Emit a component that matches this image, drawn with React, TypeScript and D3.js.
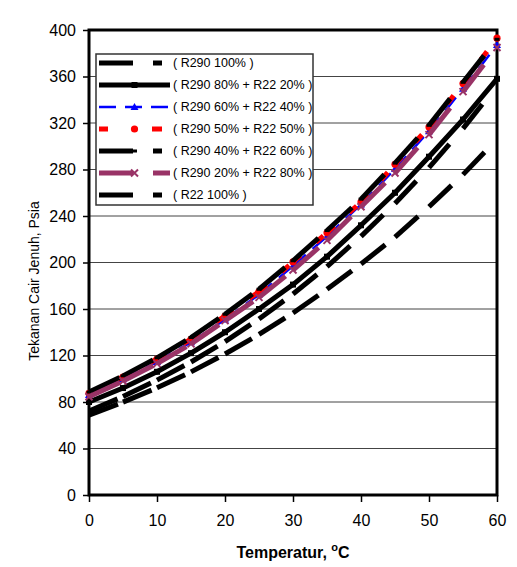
import React, { useRef, useEffect } from 'react';
import * as d3 from 'd3';

// Temperatures (°C) on the x axis
const temps = [0, 5, 10, 15, 20, 25, 30, 35, 40, 45, 50, 55, 60];

// Saturated liquid pressure (psia) per refrigerant mixture
const r290_100 = [68.7, 79.9, 92.2, 105.9, 121.3, 138.1, 156.6, 177.0, 198.7, 221.9, 248.0, 275.6, 306.0];
const r290_80 = [80, 92, 106, 122, 140, 160, 181, 205, 232, 260, 291, 323, 358];
const r290_60 = [86, 99.5, 114.5, 131.5, 151, 172.5, 197, 222.5, 250, 280.5, 313, 349.5, 387];
const r290_50 = [87.5, 101.5, 117, 134, 154, 175, 200.5, 225.5, 252, 284.5, 316.5, 354, 393];
const r290_40 = [88.5, 102.5, 118, 135.5, 155.5, 177, 201.5, 227.5, 254.5, 285.5, 318, 355, 392];
const r290_20 = [84.5, 98, 113, 130, 150, 170, 193.5, 219, 248, 277, 310, 347, 385];
const r22_100 = [72.2, 84.7, 98.8, 114.4, 132.0, 151.4, 172.9, 196.5, 222.5, 250.8, 281.7, 315.2, 352.0];

const seriesLabels = [
  '( R290 100% )',
  '( R290 80% + R22 20% )',
  '( R290 60% + R22 40% )',
  '( R290 50% + R22 50% )',
  '( R290 40% + R22 60% )',
  '( R290 20% + R22 80% )',
  '( R22 100% )',
];
const seriesValues = [r290_100, r290_80, r290_60, r290_50, r290_40, r290_20, r22_100];

const yTicks = [0, 40, 80, 120, 160, 200, 240, 280, 320, 360, 400];
const xTicks = [0, 10, 20, 30, 40, 50, 60];

// line look for each series (same order as above)
const styles = [
  { color: '#000', width: 5, dash: '31,60', legendDash: '34,20,9,20', marker: 'none' },
  { color: '#000', width: 5, dash: null, legendDash: null, marker: 'square' },
  { color: '#0000ff', width: 2.5, dash: '17,9', legendDash: '17,9', marker: 'triangle' },
  { color: '#ff0000', width: 5, dash: '10,20', legendDash: '9,44,10,20', marker: 'circle' },
  { color: '#000', width: 5, dash: '34,60', legendDash: '34,20,9,20', marker: 'dash' },
  { color: '#993366', width: 5, dash: '34,60', legendDash: '34,20', marker: 'cross' },
  { color: '#000', width: 5, dash: '31,60', legendDash: '34,20,9,20', marker: 'none' },
];

const FONT = 'Arial, "Liberation Sans", Helvetica, sans-serif';

const drawMarker = (g, type, x, y, color) => {
  if (type === 'square') {
    g.append('rect').attr('x', x - 3).attr('y', y - 3).attr('width', 6).attr('height', 6).attr('fill', color);
  } else if (type === 'triangle') {
    g.append('path')
      .attr('d', `M${x},${y - 4} L${x + 4},${y + 3} L${x - 4},${y + 3} Z`)
      .attr('fill', color);
  } else if (type === 'circle') {
    g.append('circle').attr('cx', x).attr('cy', y).attr('r', 3.6).attr('fill', color);
  } else if (type === 'dash') {
    g.append('rect').attr('x', x - 2.5).attr('y', y - 1.5).attr('width', 5).attr('height', 3).attr('fill', color);
  } else if (type === 'cross') {
    g.append('path')
      .attr('d', `M${x - 3.5},${y - 3.5} L${x + 3.5},${y + 3.5} M${x - 3.5},${y + 3.5} L${x + 3.5},${y - 3.5}`)
      .attr('stroke', color)
      .attr('stroke-width', 2);
  }
};

const PressureChart = ({ width = 517, height = 567 }) => {
  const svgRef = useRef(null);

  useEffect(() => {
    const svg = d3.select(svgRef.current);
    svg.selectAll('*').remove();

    const plot = { left: 89, right: 497, top: 30, bottom: 495 };

    const xScale = d3.scaleLinear().domain([0, 60]).range([plot.left, plot.right]);
    const yScale = d3.scaleLinear().domain([0, 400]).range([plot.bottom, plot.top]);

    svg.append('rect').attr('width', width).attr('height', height).attr('fill', '#fff');

    // horizontal grid lines
    svg.append('g')
      .selectAll('line')
      .data(yTicks.slice(1, -1))
      .enter()
      .append('line')
      .attr('x1', plot.left)
      .attr('x2', plot.right)
      .attr('y1', d => yScale(d))
      .attr('y2', d => yScale(d))
      .attr('stroke', '#444')
      .attr('stroke-width', 1);

    // y axis
    const yAxis = svg.append('g')
      .attr('transform', `translate(${plot.left},0)`)
      .call(d3.axisLeft(yScale).tickValues(yTicks).tickSize(6).tickPadding(7));
    yAxis.select('.domain').remove();
    yAxis.selectAll('line').attr('stroke', '#000').attr('stroke-width', 1.5);
    yAxis.selectAll('text').attr('font-family', FONT).attr('font-size', 16).attr('fill', '#000');

    // x axis
    const xAxis = svg.append('g')
      .attr('transform', `translate(0,${plot.bottom})`)
      .call(d3.axisBottom(xScale).tickValues(xTicks).tickSize(7).tickPadding(13));
    xAxis.select('.domain').remove();
    xAxis.selectAll('line').attr('stroke', '#000').attr('stroke-width', 1.5);
    xAxis.selectAll('text').attr('font-family', FONT).attr('font-size', 16).attr('fill', '#000');

    // plot frame
    svg.append('rect')
      .attr('x', plot.left)
      .attr('y', plot.top)
      .attr('width', plot.right - plot.left)
      .attr('height', plot.bottom - plot.top)
      .attr('fill', 'none')
      .attr('stroke', '#000')
      .attr('stroke-width', 3);

    // series: every segment restarts its dash pattern, like the original
    const line = d3.line().x(d => xScale(d[0])).y(d => yScale(d[1]));
    seriesValues.forEach((vals, i) => {
      const st = styles[i];
      const g = svg.append('g');
      for (let k = 0; k < vals.length - 1; k++) {
        const seg = [[temps[k], vals[k]], [temps[k + 1], vals[k + 1]]];
        g.append('path')
          .attr('d', line(seg))
          .attr('fill', 'none')
          .attr('stroke', st.color)
          .attr('stroke-width', st.width)
          .attr('stroke-dasharray', st.dash)
          .attr('stroke-linecap', st.dash ? 'butt' : 'round');
      }
      vals.forEach((v, k) => drawMarker(g, st.marker, xScale(temps[k]), yScale(v), st.color));
    });

    // legend
    const legend = svg.append('g');
    legend.append('rect')
      .attr('x', 96)
      .attr('y', 54)
      .attr('width', 217)
      .attr('height', 151)
      .attr('fill', '#fff')
      .attr('stroke', '#333')
      .attr('stroke-width', 1.5);
    seriesLabels.forEach((label, i) => {
      const st = styles[i];
      const y = 63 + i * 22;
      legend.append('line')
        .attr('x1', 99)
        .attr('x2', 170)
        .attr('y1', y)
        .attr('y2', y)
        .attr('stroke', st.color)
        .attr('stroke-width', st.width)
        .attr('stroke-dasharray', st.legendDash);
      drawMarker(legend, st.marker, 134.5, y, st.color);
      legend.append('text')
        .attr('x', 173)
        .attr('y', y)
        .attr('dy', '0.35em')
        .attr('font-family', FONT)
        .attr('font-size', 12.5)
        .attr('fill', '#000')
        .text(label);
    });

    // axis titles
    const xTitle = svg.append('text')
      .attr('x', (plot.left + plot.right) / 2)
      .attr('y', 558)
      .attr('text-anchor', 'middle')
      .attr('font-family', FONT)
      .attr('font-size', 16)
      .attr('font-weight', 'bold')
      .attr('fill', '#000');
    xTitle.append('tspan').text('Temperatur, ');
    xTitle.append('tspan').attr('font-size', 11).attr('dy', -7).text('o');
    xTitle.append('tspan').attr('dy', 7).text('C');

    svg.append('text')
      .attr('transform', `translate(34,281) rotate(-90)`)
      .attr('text-anchor', 'middle')
      .attr('dy', '0.35em')
      .attr('font-family', FONT)
      .attr('font-size', 14)
      .attr('fill', '#000')
      .text('Tekanan Cair Jenuh, Psia');
  }, [width, height]);

  return (
    <svg
      ref={svgRef}
      width={width}
      height={height}
      style={{ position: 'absolute', left: 0, top: 0, display: 'block' }}
    />
  );
};

export default function App() {
  return <PressureChart />;
}
